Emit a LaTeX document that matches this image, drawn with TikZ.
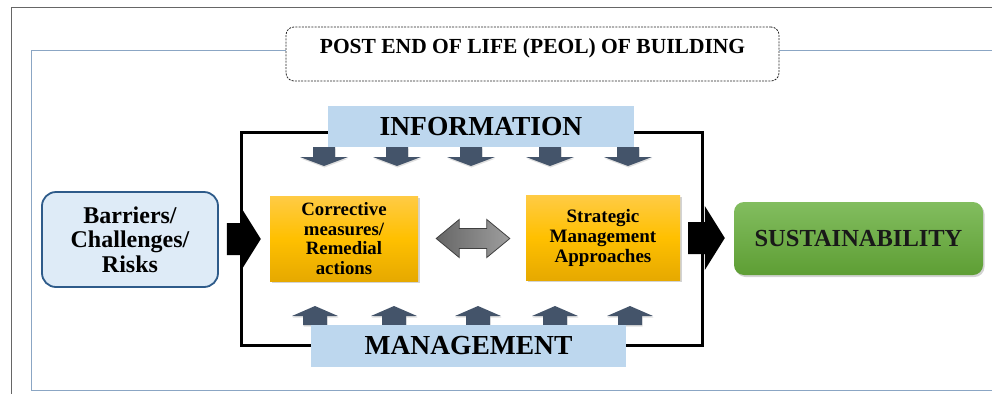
\documentclass[tikz,border=0pt]{standalone}
\usepackage{fontspec}
\setmainfont{Liberation Serif}
\usetikzlibrary{calc,shadows}

\definecolor{infoblue}{HTML}{BDD7EE}
\definecolor{riskfill}{HTML}{DEEBF7}
\definecolor{riskdraw}{HTML}{2E5B8A}
\definecolor{slate}{HTML}{44546A}
\definecolor{frameblue}{HTML}{8BA6C4}
\definecolor{orangetop}{HTML}{FFCB45}
\definecolor{orangemid}{HTML}{FFC000}
\definecolor{orangebot}{HTML}{E6A900}
\definecolor{greentop}{HTML}{82BD5F}
\definecolor{greenbot}{HTML}{5E9E34}

% black block arrow from one node to the next
\newcommand{\blockarrow}[2]{%
  \fill[black] let \p1=($(#1.east)!0.5!(#2.west)$), \p2=(#1.east), \p3=(#2.west) in
    (\x2+8pt,\y1+16pt) -- (\x3-29pt,\y1+16pt) -- (\x3-29pt,\y1+32pt) -- (\x3-9pt,\y1)
    -- (\x3-29pt,\y1-32pt) -- (\x3-29pt,\y1-16pt) -- (\x2+8pt,\y1-16pt) -- cycle;}

\begin{document}
\begin{tikzpicture}[x=1pt, y=-1pt,
    bandbox/.style={fill=infoblue, inner sep=0pt, font=\bfseries\fontsize{27.5}{29}\selectfont},
    orangebox/.style={top color=orangetop, bottom color=orangebot, middle color=orangemid,
      inner sep=0pt, align=center, drop shadow={opacity=0.35, shadow xshift=1.5pt, shadow yshift=-2pt}},
    slatearrow/.style={fill=slate, drop shadow={opacity=0.25, shadow xshift=0.5pt, shadow yshift=-1.5pt}}]
    \useasboundingbox (0,0) rectangle (992,394);

    % Frames
    \draw[black!60, line width=1pt] (992,7) -- (11,7) -- (11,394);
    \draw[frameblue, line width=1pt] (992,50) -- (31,50) -- (31,390) -- (992,390);

    % Title
    \node[draw=black!85, dash pattern=on 2pt off 1.2pt, line width=0.8pt, rounded corners=8pt, fill=white,
      minimum width=493pt, inner xsep=0pt, inner ysep=0pt, text height=26pt, text depth=28pt,
      font=\bfseries\fontsize{21.5}{23}\selectfont] (title) at (532.5,54) {POST END OF LIFE (PEOL) OF BUILDING};

    % Loop
    \draw[line width=3pt] (241,132) rectangle (702,345);

    % Information and management arrows
    \foreach \x in {324,397,471,550,628} {
      \fill[slatearrow] (\x-11,147) -- (\x+11,147) -- (\x+11,157) -- (\x+24,157) -- (\x,166)
        -- (\x-24,157) -- (\x-11,157) -- cycle;
    }
    \foreach \x in {315,394,478,555,630} {
      \fill[slatearrow] (\x-12,325) -- (\x-12,316) -- (\x-23,316) -- (\x,306) -- (\x+23,316)
        -- (\x+12,316) -- (\x+12,325) -- cycle;
    }

    \node[bandbox, minimum width=306pt, minimum height=41pt] (info) at (481,126.5) {INFORMATION};
    \node[bandbox, minimum width=315pt, minimum height=42pt] (mgmt) at (468.5,346) {MANAGEMENT};

    % Boxes
    \node[draw=riskdraw, line width=1.8pt, fill=riskfill, rounded corners=14pt, align=center,
      minimum width=176pt, minimum height=95pt, inner sep=0pt,
      font=\bfseries\fontsize{24}{24.5}\selectfont] (risks) at (130,239.5) {Barriers/\\Challenges/\\Risks};
    \node[orangebox, minimum width=148pt, minimum height=85pt,
      font=\bfseries\fontsize{18.8}{19.5}\selectfont] (corrective) at (344,238.5)
      {Corrective\\measures/\\Remedial\\actions};
    \node[orangebox, minimum width=154pt, minimum height=85pt,
      font=\bfseries\fontsize{19}{20}\selectfont] (strategic) at (603,237.5)
      {Strategic\\Management\\Approaches};
    \node[top color=greentop, bottom color=greenbot, rounded corners=10pt,
      minimum width=249pt, minimum height=73pt, inner sep=0pt,
      drop shadow={opacity=0.35, shadow xshift=1.5pt, shadow yshift=-2pt},
      font=\bfseries\fontsize{24.5}{26}\selectfont, text=black!90] (sustain) at (858.5,238.5) {SUSTAINABILITY};

    % Connectors
    \blockarrow{risks}{corrective}
    \blockarrow{strategic}{sustain}
    \shadedraw[left color=black!60, right color=black!38, draw=black!75, line width=0.8pt]
      let \p1=(corrective.east), \p2=(strategic.west) in
      (\x1+18pt,\y1) -- (\x1+41pt,\y1+19pt) -- (\x1+41pt,\y1+10pt) -- (\x2-39pt,\y1+10pt)
      -- (\x2-39pt,\y1+19pt) -- (\x2-16pt,\y1) -- (\x2-39pt,\y1-19pt) -- (\x2-39pt,\y1-10pt)
      -- (\x1+41pt,\y1-10pt) -- (\x1+41pt,\y1-19pt) -- cycle;
\end{tikzpicture}
\end{document}
